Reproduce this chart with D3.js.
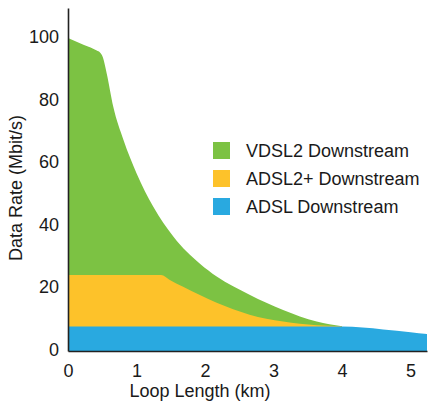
<!DOCTYPE html>
<html><head><meta charset="utf-8">
<script src="https://cdn.jsdelivr.net/npm/d3@7"></script>
<style>
html,body{margin:0;padding:0;background:#fff;}
svg text{font-family:"Liberation Sans",Arial,Helvetica,sans-serif;fill:#1a1a1a;}
</style></head>
<body><svg id="c" width="428" height="401"></svg>
<script>
const seriesNames = ["VDSL2 Downstream", "ADSL2+ Downstream", "ADSL Downstream"];
const seriesColors = ["#7cc243", "#fdc22a", "#29a9e0"];
const vdsl2 = [[0,100],[0.15,98.6],[0.3,97.2],[0.42,96],[0.47,95.3],[0.51,93.8],[0.565,88.7],[0.66,78.1],[0.81,67.4],[1.0,56.8],[1.245,46.1],[1.54,36.5],[1.93,27.8],[2.17,23.8],[2.65,18.0],[3.14,13.1],[3.63,9.4],[4.0,7.9]];
const adsl2p = [[0,24.3],[1.36,24.3],[1.48,22.8],[1.68,20.5],[2.17,15.4],[2.65,11.6],[3.14,9.4],[3.63,8.2],[4.0,7.9]];
const adsl = [[0,7.8],[4.0,7.8],[4.3,7.5],[4.6,6.9],[5.0,6.0],[5.24,5.4]];
const xTicks = [0,1,2,3,4,5];
const yTicks = [0,20,40,60,80,100];
const xTitle = "Loop Length (km)";
const yTitle = "Data Rate (Mbit/s)";

const svg = d3.select("#c");
const x = d3.scaleLinear().domain([0,5.24]).range([68,427]);
const y = d3.scaleLinear().domain([0,109.6]).range([351,8]);

const area = d3.area().x(d=>x(d[0])).y0(y(0)).y1(d=>y(d[1])).curve(d3.curveMonotoneX);
[vdsl2, adsl2p, adsl].forEach((s,i)=>{
  svg.append("path").datum(s).attr("d", area).attr("fill", seriesColors[i]);
});

const fs = 18;
const gx = svg.append("g").attr("transform", `translate(0,${y(0)})`)
  .call(d3.axisBottom(x).tickValues(xTicks).tickSize(0).tickPadding(13).tickFormat(d3.format("d")));
const gy = svg.append("g").attr("transform", `translate(${x(0)},0)`)
  .call(d3.axisLeft(y).tickValues(yTicks).tickSize(0).tickPadding(9).tickFormat(d3.format("d")));
[gx,gy].forEach(g=>{
  g.select(".domain").attr("stroke","#222").attr("stroke-width",1.6);
  g.selectAll("text").style("font-size", fs+"px").attr("fill","#1a1a1a");
  g.attr("font-family", null);
});
gy.selectAll(".tick text").attr("dy","0.25em");

svg.append("text").attr("x", 200).attr("y", 397).attr("text-anchor","middle")
  .style("font-size", fs+"px").text(xTitle);
svg.append("text").attr("transform", "translate(22,188) rotate(-90)").attr("text-anchor","middle")
  .style("font-size", fs+"px").text(yTitle);

const leg = svg.append("g");
seriesNames.forEach((n,i)=>{
  const ty = 142 + i*28;
  leg.append("rect").attr("x",213).attr("y",ty).attr("width",17).attr("height",17).attr("fill",seriesColors[i]);
  leg.append("text").attr("x",246).attr("y",ty+8.5).attr("dy","0.36em").style("font-size", fs+"px").text(n);
});
</script></body></html>
